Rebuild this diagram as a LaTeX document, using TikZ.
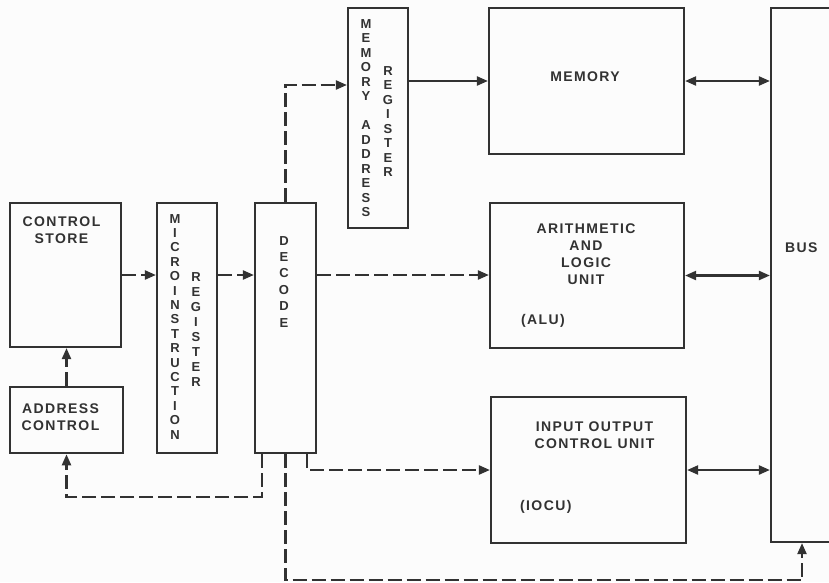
\documentclass[tikz,border=0pt]{standalone}
\usepackage{fontspec}
\setmainfont{Liberation Sans}[LetterSpace=10]
\usetikzlibrary{arrows.meta}
\definecolor{inkgray}{RGB}{50,50,50}
\definecolor{paperwhite}{RGB}{252,252,252}

\tikzset{
  blockbox/.style={draw=inkgray, line width=2.2pt, inner sep=0pt},
  blocktext/.style={text=inkgray, font=\bfseries\fontsize{14}{17}\selectfont, align=center, inner sep=0pt},
  vletters/.style={text=inkgray, font=\bfseries\fontsize{13}{#1}\selectfont, align=center, inner sep=0pt, anchor=north},
  dashlink/.style={draw=inkgray, line width=2.2pt, dash pattern=on 14pt off 5pt, -{Triangle[length=11pt,width=9pt]}},
  solidlink/.style={draw=inkgray, line width=2.2pt, -{Triangle[length=11pt,width=9pt]}},
  buslink/.style={draw=inkgray, line width=2.2pt, {Triangle[length=11pt,width=9pt]}-{Triangle[length=11pt,width=9pt]}},
}

\begin{document}
\begin{tikzpicture}[x=1pt, y=-1pt]
  \useasboundingbox (0,0) rectangle (829,582);
  \fill[paperwhite] (0,0) rectangle (829,582);

  % blocks
  \node[blockbox, minimum width=111pt, minimum height=144pt] (cs) at (65.5,275) {};
  \node[blockbox, line width=2.6pt, minimum width=113pt, minimum height=66pt] (ac) at (66.5,420) {};
  \node[blockbox, minimum width=60pt, minimum height=250pt] (mir) at (187,328) {};
  \node[blockbox, minimum width=61pt, minimum height=250pt] (dec) at (285.5,328) {};
  \node[blockbox, minimum width=60pt, minimum height=220pt] (mar) at (378,118) {};
  \node[blockbox, minimum width=195pt, minimum height=146pt] (mem) at (586.5,81) {};
  \node[blockbox, minimum width=194pt, minimum height=145pt] (alu) at (587,275.5) {};
  \node[blockbox, minimum width=195pt, minimum height=146pt] (iocu) at (588.5,470) {};
  \node[blockbox, minimum width=62pt, minimum height=534pt] (bus) at (802,275) {};

  % labels
  \node[blocktext, anchor=north] (cs-lbl) at ([xshift=-4pt,yshift=-15pt]cs.north) {CONTROL\\STORE};
  \node[blocktext] (ac-lbl) at ([xshift=-6pt,yshift=3pt]ac.center) {ADDRESS\\CONTROL};
  \node[vletters=14.4] (mir-lbl1) at ([xshift=-12pt,yshift=-12pt]mir.north)
    {M\\I\\C\\R\\O\\I\\N\\S\\T\\R\\U\\C\\T\\I\\O\\N};
  \node[vletters=15] (mir-lbl2) at ([xshift=9pt,yshift=-70pt]mir.north)
    {R\\E\\G\\I\\S\\T\\E\\R};
  \node[vletters=16.4] (dec-lbl) at ([xshift=-1.5pt,yshift=-34pt]dec.north)
    {D\\E\\C\\O\\D\\E};
  \node[vletters=14.5] (mar-lbl1) at ([xshift=-12pt,yshift=-12pt]mar.north)
    {M\\E\\M\\O\\R\\Y\\[14.5pt]A\\D\\D\\R\\E\\S\\S};
  \node[vletters=14.5] (mar-lbl2) at ([xshift=10pt,yshift=-59pt]mar.north)
    {R\\E\\G\\I\\S\\T\\E\\R};
  \node[blocktext] (mem-lbl) at ([xshift=-1.5pt,yshift=4pt]mem.center) {MEMORY};
  \node[blocktext, anchor=north] (alu-lbl) at ([xshift=-1pt,yshift=-22pt]alu.north)
    {ARITHMETIC\\AND\\LOGIC\\UNIT};
  \node[blocktext, anchor=west] (alu-abbr) at ([xshift=32pt,yshift=28pt]alu.south west) {(ALU)};
  \node[blocktext, anchor=north] (iocu-lbl) at ([xshift=6pt,yshift=-26pt]iocu.north)
    {INPUT OUTPUT\\CONTROL UNIT};
  \node[blocktext, anchor=west] (iocu-abbr) at ([xshift=30pt,yshift=37pt]iocu.south west) {(IOCU)};
  \node[blocktext, anchor=west] (bus-lbl) at ([xshift=15pt,yshift=27pt]bus.west) {BUS};

  % connectors
  \draw[dashlink] (ac.north) -- (ac.north |- cs.south);
  \draw[dashlink] (cs.east) -- (mir.west |- cs.east);
  \draw[dashlink] (mir.east |- cs.east) -- (dec.west |- cs.east);
  \draw[dashlink] (dec.east |- cs.east) -- (alu.west |- cs.east);
  \draw[dashlink] (dec.north) |- ([yshift=33pt]mar.west);
  \draw[solidlink] (mar.east |- mem.west) -- (mem.west);
  \draw[buslink] (mem.east) -- (bus.west |- mem.east);
  \draw[buslink] (alu.east) -- (bus.west |- alu.east);
  \draw[buslink] (iocu.east) -- (bus.west |- iocu.east);
  \draw[dashlink] ([xshift=21.5pt]dec.south) |- (iocu.west);
  \draw[dashlink] ([xshift=-23.5pt]dec.south) -- ++(0,43) -| (ac.south);
  \draw[dashlink] (dec.south) -- ++(0,126) -| (bus.south);
\end{tikzpicture}
\end{document}
